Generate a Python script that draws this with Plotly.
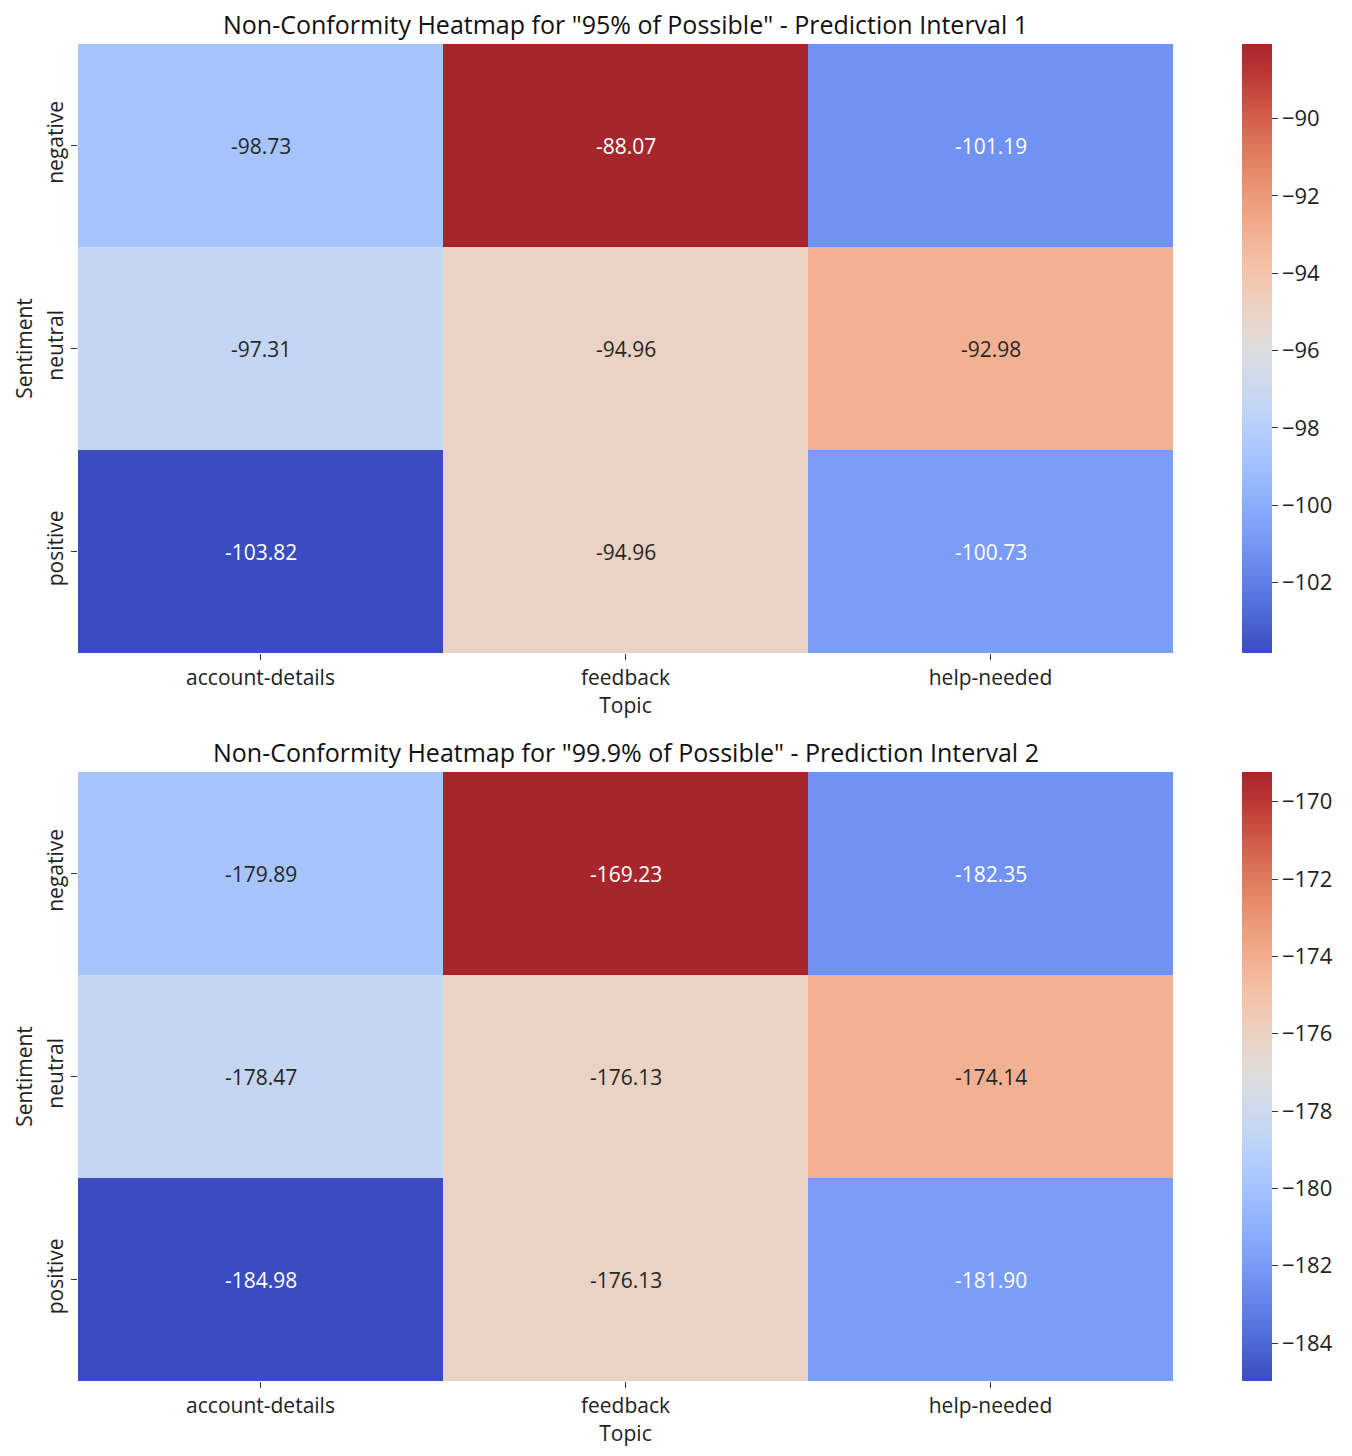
import plotly.graph_objects as go

topics = ["account-details", "feedback", "help-needed"]
sentiments = ["negative", "neutral", "positive"]

z_interval1 = [
    [-98.73, -88.07, -101.19],
    [-97.31, -94.96, -92.98],
    [-103.82, -94.96, -100.73],
]
z_interval2 = [
    [-179.89, -169.23, -182.35],
    [-178.47, -176.13, -174.14],
    [-184.98, -176.13, -181.90],
]
titles = [
    'Non-Conformity Heatmap for "95% of Possible" - Prediction Interval 1',
    'Non-Conformity Heatmap for "99.9% of Possible" - Prediction Interval 2',
]
cbar_ticks1 = [-90, -92, -94, -96, -98, -100, -102]
cbar_ticks2 = [-170, -172, -174, -176, -178, -180, -182, -184]

# coolwarm (Moreland) control points
cw = [
    (59, 76, 192), (68, 90, 204), (77, 104, 215), (87, 117, 225), (98, 130, 234),
    (108, 142, 241), (119, 154, 247), (130, 165, 251), (141, 176, 254), (152, 185, 255),
    (163, 194, 255), (174, 201, 253), (184, 208, 249), (194, 213, 244), (204, 217, 238),
    (213, 219, 230), (221, 221, 221), (229, 216, 209), (234, 211, 197), (239, 204, 184),
    (242, 196, 172), (243, 187, 159), (242, 177, 147), (240, 166, 134), (236, 154, 123),
    (232, 141, 111), (227, 127, 99), (220, 112, 89), (212, 96, 77), (203, 80, 66),
    (193, 62, 56), (181, 48, 50), (167, 38, 44),
]
n = len(cw) - 1
colorscale = [[i / n, "rgb(%d,%d,%d)" % c] for i, c in enumerate(cw)]


def color_at(t):
    t = min(max(t, 0), 1) * n
    i = min(int(t), n - 1)
    f = t - i
    a, b = cw[i], cw[i + 1]
    return [a[k] + (b[k] - a[k]) * f for k in range(3)]


def lum(rgb):
    out = []
    for c in rgb:
        c = c / 255
        out.append(c / 12.92 if c <= 0.03928 else ((c + 0.055) / 1.055) ** 2.4)
    return 0.2126 * out[0] + 0.7152 * out[1] + 0.0722 * out[2]


OFF = 8  # browser body margin
W, H = 1352 - OFF, 1456 - OFF


def px_x(px):
    return (px - OFF) / W


def px_y(px):
    return 1 - (px - OFF) / H


font = "Open Sans"
FS = 21
x_dom = [px_x(78), px_x(1173)]
panels = [
    (z_interval1, cbar_ticks1, 44, 653),
    (z_interval2, cbar_ticks2, 772, 1381),
]

fig = go.Figure()
annotations = []
for p, (z, cticks, top, bot) in enumerate(panels):
    ydom = [px_y(bot), px_y(top)]
    flat = [v for row in z for v in row]
    zmin, zmax = min(flat), max(flat)
    xa = "x" if p == 0 else "x2"
    ya = "y" if p == 0 else "y2"
    fig.add_trace(go.Heatmap(
        z=z, x=topics, y=sentiments, xaxis=xa, yaxis=ya,
        colorscale=colorscale, zmin=zmin, zmax=zmax, xgap=0, ygap=0,
        colorbar=dict(
            x=px_x(1242), xanchor="left", y=sum(ydom) / 2, yanchor="middle",
            len=(bot - top) / H, lenmode="fraction", thickness=30,
            thicknessmode="pixels", outlinewidth=0, ticks="outside", ticklen=6,
            tickcolor="#333", tickvals=cticks,
            ticktext=["\u2212" + str(abs(v)) for v in cticks],
            tickfont=dict(family=font, size=22, color="#222"), ypad=0, xpad=0,
        ),
    ))
    for r, s in enumerate(sentiments):
        for c, t in enumerate(topics):
            v = z[r][c]
            col = color_at((v - zmin) / (zmax - zmin))
            tc = "#262626" if lum(col) > 0.408 else "#ffffff"
            annotations.append(dict(
                x=t, y=s, xref=xa, yref=ya, text="%.2f" % v, showarrow=False,
                font=dict(family=font, size=FS, color=tc),
            ))
    annotations.append(dict(
        x=sum(x_dom) / 2, y=px_y(top - 22), xref="paper", yref="paper",
        text=titles[p], showarrow=False, xanchor="center", yanchor="middle",
        borderpad=0, yshift=-2,
        font=dict(family=font, size=25, color="#111"),
    ))
    axis_common = dict(showgrid=False, zeroline=False, showline=False,
                       ticks="outside", ticklen=6, tickcolor="#333",
                       tickfont=dict(family=font, size=FS, color="#222"))
    fig.update_layout(**{
        ("xaxis" if p == 0 else "xaxis2"): dict(
            domain=x_dom, anchor=ya, title=dict(text="Topic", standoff=2,
            font=dict(family=font, size=FS, color="#222")), **axis_common),
        ("yaxis" if p == 0 else "yaxis2"): dict(
            domain=ydom, anchor=xa, autorange="reversed", tickangle=-90,
            title=dict(text="Sentiment", standoff=2,
            font=dict(family=font, size=FS, color="#222")), **axis_common),
    })

fig.update_layout(
    width=W, height=H, margin=dict(l=0, r=0, t=0, b=0),
    paper_bgcolor="white", plot_bgcolor="white",
    annotations=annotations, font=dict(family=font),
)
fig.write_html("out.html")
